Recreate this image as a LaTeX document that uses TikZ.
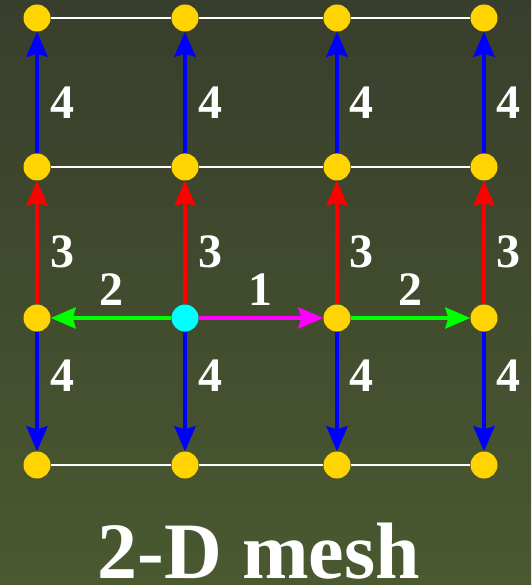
\documentclass[tikz,border=0pt]{standalone}
\usepackage{fontspec}
\setmainfont{Liberation Serif}
\newfontfamily\meshfont{Liberation Serif}[BoldFont={Liberation Serif Bold}]
\usetikzlibrary{arrows.meta}
\definecolor{meshgold}{RGB}{255,212,0}
\definecolor{meshcyan}{RGB}{0,255,255}
\definecolor{meshmagenta}{RGB}{255,0,255}
\definecolor{meshgreen}{RGB}{0,255,0}
\definecolor{meshred}{RGB}{255,0,0}
\definecolor{meshblue}{RGB}{0,0,255}
\definecolor{meshtop}{RGB}{56,62,44}
\definecolor{meshbottom}{RGB}{74,89,48}
\newcommand{\mypx}{1pt}

\tikzset{
  dot/.style={circle, fill=meshgold, minimum size=27pt, inner sep=0pt},
  srcdot/.style={dot, fill=meshcyan},
  link/.style={white, line width=2pt},
  hop/.style={line width=4pt, -{Stealth[length=25pt, width=21pt, inset=3pt]}},
  lab/.style={text=white, inner sep=0pt, font=\meshfont\bfseries\fontsize{48}{48}\selectfont},
}

\begin{document}
\begin{tikzpicture}[x=\mypx, y=-\mypx]
  % Background
  \shade[top color=meshtop, bottom color=meshbottom] (0,0) rectangle (531,585);
  \useasboundingbox (0,0) rectangle (531,585);

  % Nodes
  \node[dot] (a1) at (37,18) {};
  \node[dot] (a2) at (185,18) {};
  \node[dot] (a3) at (337,18) {};
  \node[dot] (a4) at (484,18) {};
  \node[dot] (b1) at (37,167) {};
  \node[dot] (b2) at (185,167) {};
  \node[dot] (b3) at (337,167) {};
  \node[dot] (b4) at (484,167) {};
  \node[dot] (c1) at (37,318) {};
  \node[srcdot] (c2) at (185,318) {};
  \node[dot] (c3) at (337,318) {};
  \node[dot] (c4) at (484,318) {};
  \node[dot] (d1) at (37,465) {};
  \node[dot] (d2) at (185,465) {};
  \node[dot] (d3) at (337,465) {};
  \node[dot] (d4) at (484,465) {};

  % Mesh links
  \draw[link] (a1) -- (a2) -- (a3) -- (a4);
  \draw[link] (b1) -- (b2) -- (b3) -- (b4);
  \draw[link] (d1) -- (d2) -- (d3) -- (d4);

  % Steps
  \draw[hop, meshmagenta] (c2) -- (c3);
  \draw[hop, meshgreen] (c2) -- (c1);
  \draw[hop, meshgreen] (c3) -- (c4);
  \draw[hop, meshred] (c1) -- (b1);
  \draw[hop, meshred] (c2) -- (b2);
  \draw[hop, meshred] (c3) -- (b3);
  \draw[hop, meshred] (c4) -- (b4);
  \draw[hop, meshblue] (b1) -- (a1);
  \draw[hop, meshblue] (b2) -- (a2);
  \draw[hop, meshblue] (b3) -- (a3);
  \draw[hop, meshblue] (b4) -- (a4);
  \draw[hop, meshblue] (c1) -- (d1);
  \draw[hop, meshblue] (c2) -- (d2);
  \draw[hop, meshblue] (c3) -- (d3);
  \draw[hop, meshblue] (c4) -- (d4);

  % Step labels
  \node[lab] (s1) at (260,290) {1};
  \node[lab] (s2l) at (111,290) {2};
  \node[lab] (s2r) at (410,290) {2};
  \node[lab] (s3a) at (62,252) {3};
  \node[lab] (s3b) at (210,252) {3};
  \node[lab] (s3c) at (361,252) {3};
  \node[lab] (s3d) at (508,252) {3};
  \node[lab] (s4a) at (62,103) {4};
  \node[lab] (s4b) at (210,103) {4};
  \node[lab] (s4c) at (361,103) {4};
  \node[lab] (s4d) at (508,103) {4};
  \node[lab] (s4e) at (62,376) {4};
  \node[lab] (s4f) at (210,376) {4};
  \node[lab] (s4g) at (361,376) {4};
  \node[lab] (s4h) at (508,376) {4};

  % Title
  \node[text=white, inner sep=0pt, anchor=base, font=\meshfont\bfseries\fontsize{80}{80}\selectfont] (title) at (259,578) {2-D mesh};
\end{tikzpicture}
\end{document}
